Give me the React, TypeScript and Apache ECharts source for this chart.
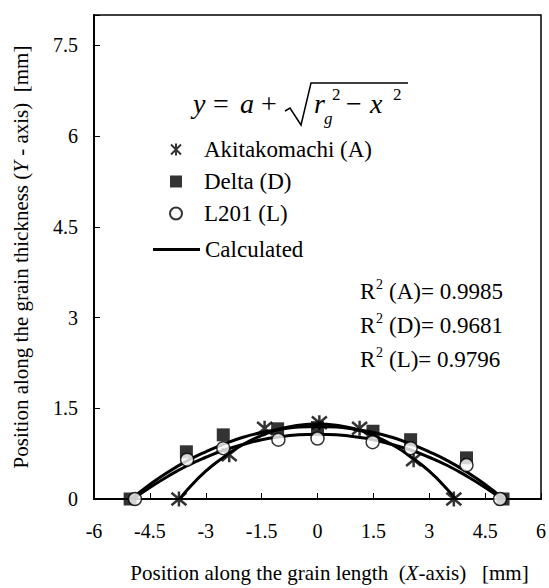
import React, { useEffect, useRef } from 'react';
import * as echarts from 'echarts';

const FONT = 'Liberation Serif';

// Measured data points
const akitaX = [-3.72, -2.37, -1.42, 0.05, 1.13, 2.58, 3.66];
const akitaY = [0, 0.73, 1.17, 1.26, 1.17, 0.65, 0];
const deltaX = [-5.03, -3.52, -2.53, -1.07, 0, 1.49, 2.5, 4.0, 4.98];
const deltaY = [0, 0.78, 1.06, 1.16, 1.18, 1.12, 0.98, 0.68, 0];
const l201X = [-4.9, -3.5, -2.53, -1.05, 0, 1.48, 2.5, 4.0, 4.9];
const l201Y = [0, 0.65, 0.84, 0.98, 1.0, 0.94, 0.84, 0.56, 0];

// Calculated curves
const calcAX = [-3.7, -3.5, -3, -2.5, -2, -1.5, -1, -0.5, 0, 0.5, 1, 1.5, 2, 2.5, 3, 3.5, 3.7];
const calcAY = [0, 0.15, 0.46, 0.7, 0.9, 1.05, 1.16, 1.22, 1.24, 1.22, 1.16, 1.05, 0.9, 0.7, 0.46, 0.15, 0];
const calcDX = [-5, -4.5, -4, -3.5, -3, -2.5, -2, -1.5, -1, -0.5, 0, 0.5, 1, 1.5, 2, 2.5, 3, 3.5, 4, 4.5, 5];
const calcDY = [0, 0.24, 0.45, 0.63, 0.78, 0.91, 1.02, 1.1, 1.15, 1.19, 1.2, 1.19, 1.15, 1.1, 1.02, 0.91, 0.78, 0.63, 0.45, 0.24, 0];
const calcLX = [-4.95, -4.5, -4, -3.5, -3, -2.5, -2, -1.5, -1, -0.5, 0, 0.5, 1, 1.5, 2, 2.5, 3, 3.5, 4, 4.5, 4.95];
const calcLY = [0, 0.19, 0.38, 0.55, 0.69, 0.81, 0.9, 0.98, 1.03, 1.06, 1.07, 1.06, 1.03, 0.98, 0.9, 0.81, 0.69, 0.55, 0.38, 0.19, 0];

const seriesNames = ['Akitakomachi (A)', 'Delta (D)', 'L201 (L)'];
const calcName = 'Calculated';
const r2Labels = ['(A)= 0.9985', '(D)= 0.9681', '(L)= 0.9796'];
const xTitle = 'Position along the grain length  ({i|X}-axis)   [mm]';
const yTitle = 'Position along the grain thickness ({i|Y} - axis)  [mm]';

const pairs = (xs: number[], ys: number[]) => xs.map((x, i) => [x, ys[i]]);

const ASTERISK = 'path://M1 1L11 11M11 1L1 11M6 0L6 12';
const SQUARE = 'path://M0 0H10V10H0Z';
const CIRCLE = 'path://M10 5A5 5 0 1 1 0 5A5 5 0 1 1 10 5Z';
const BAR = 'path://M0 0H47V3H0Z';

const T = (text: string, x: number, y: number, size: number, italic = false) => ({
  type: 'text', x, y,
  style: {
    text, fill: '#000', fontFamily: FONT, fontSize: size,
    ...(italic ? { fontStyle: 'italic' } : {}),
    textAlign: 'left', textVerticalAlign: 'middle', align: 'left', verticalAlign: 'middle',
  },
});

export default function App() {
  const ref = useRef<HTMLDivElement>(null);
  useEffect(() => {
    if (!ref.current) return;
    const chart = echarts.init(ref.current, undefined, { renderer: 'svg' });
    const lineSeries = (xs: number[], ys: number[]) => ({
      type: 'line',
      name: calcName,
      data: pairs(xs, ys),
      smooth: true,
      symbol: 'none',
      lineStyle: { color: '#000', width: 3 },
      itemStyle: { color: '#000' },
      z: 2,
    });
    const legendText = { fontFamily: FONT, fontSize: 23, color: '#000' };
    chart.setOption({
      animation: false,
      backgroundColor: '#fff',
      grid: { left: 94, right: 7, top: 15, bottom: 89, show: true, borderColor: '#000', borderWidth: 1.5 },
      xAxis: {
        type: 'value', min: -6, max: 6, interval: 1.5,
        axisLine: { onZero: false, lineStyle: { color: '#000', width: 2 } },
        axisTick: { inside: true, length: 6, lineStyle: { color: '#000' } },
        axisLabel: { fontFamily: FONT, fontSize: 20, color: '#000', margin: 22 },
        splitLine: { show: false },
        name: xTitle, nameLocation: 'middle', nameGap: 63,
        nameTextStyle: { fontFamily: FONT, fontSize: 21, color: '#000', padding: [0, 0, 0, 24], rich: { i: { fontFamily: FONT, fontSize: 21, fontStyle: 'italic', color: '#000' } } },
      },
      yAxis: {
        type: 'value', min: 0, max: 8, interval: 1.5,
        axisLine: { onZero: false, lineStyle: { color: '#000', width: 2 } },
        axisTick: { inside: true, length: 6, lineStyle: { color: '#000' } },
        axisLabel: { fontFamily: FONT, fontSize: 20, color: '#000', margin: 16, formatter: (v: number) => (v > 7.9 ? '' : String(v)) },
        splitLine: { show: false },
        name: yTitle, nameLocation: 'middle', nameGap: 63,
        nameTextStyle: { fontFamily: FONT, fontSize: 21, color: '#000', rich: { i: { fontFamily: FONT, fontSize: 21, fontStyle: 'italic', color: '#000' } } },
      },
      legend: [
        {
          data: seriesNames, orient: 'vertical', left: 164, top: 133,
          itemWidth: 46, itemHeight: 12, itemGap: 9, selectedMode: false,
          textStyle: legendText,
        },
        {
          data: [{ name: calcName, icon: BAR }], left: 148, top: 233,
          itemWidth: 47, itemHeight: 14, selectedMode: false,
          textStyle: legendText,
        },
      ],
      series: [
        lineSeries(calcAX, calcAY),
        lineSeries(calcDX, calcDY),
        lineSeries(calcLX, calcLY),
        {
          type: 'scatter', name: seriesNames[0], data: pairs(akitaX, akitaY),
          symbol: ASTERISK, symbolSize: 15,
          itemStyle: { color: '#000', borderColor: '#000', borderWidth: 2.5 }, z: 4,
        },
        {
          type: 'scatter', name: seriesNames[1], data: pairs(deltaX, deltaY),
          symbol: SQUARE, symbolSize: 13,
          itemStyle: { color: '#000', borderColor: '#000', borderWidth: 0 }, z: 4,
        },
        {
          type: 'scatter', name: seriesNames[2], data: pairs(l201X, l201Y),
          symbol: CIRCLE, symbolSize: 13,
          itemStyle: { color: '#fff', borderColor: '#000', borderWidth: 1.5 }, z: 5,
        },
      ],
      graphic: [
        T('y', 193, 103, 28, true),
        T('=', 213, 103, 28),
        T('a', 240, 103, 28, true),
        T('+', 261, 103, 28),
        { type: 'polyline', shape: { points: [[285, 111], [290, 108], [301, 125], [311, 83], [408, 83]] }, style: { stroke: '#000', lineWidth: 1.5, fill: 'none' } },
        T('r', 314, 103, 28, true),
        T('g', 324, 118, 17, true),
        T('2', 332, 94, 17),
        T('\u2212', 346, 103, 28),
        T('x', 370, 103, 28, true),
        T('2', 393, 94, 17),
        ...r2Labels.flatMap((t, i) => {
          const y = [291, 325, 359][i];
          return [T('R', 360, y, 23), T('2', 376, y - 7, 14), T(t, 389, y, 23)];
        }),
      ],
    });
    return () => chart.dispose();
  }, []);
  return <div ref={ref} style={{ width: 549, height: 588, position: 'absolute', left: 0, top: 0 }} />;
}
